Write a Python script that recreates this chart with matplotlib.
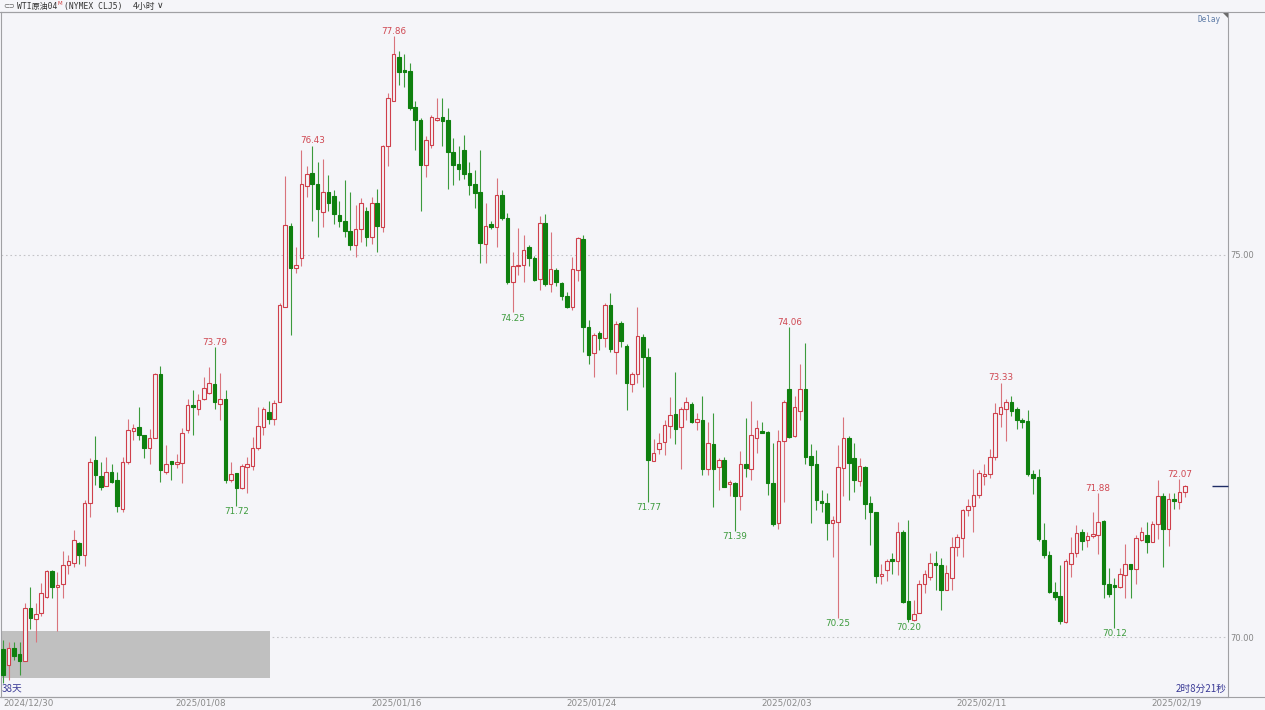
import matplotlib
matplotlib.use("Agg")
import matplotlib.pyplot as plt
from matplotlib.patches import Rectangle, Polygon
from matplotlib.lines import Line2D

plt.rcParams["font.family"] = ["DejaVu Sans", "Noto Sans CJK SC"]

BG = "#f5f5f9"
UP = "#cf3f4b"
UP_WICK = "#d9747c"
DOWN = "#0f800f"
DOWN_WICK = "#3c9a3c"
AXIS = "#a0a0a4"

# 4-hour candles, WTI CLJ5
opens = [
    69.84, 69.63, 69.86, 69.78, 69.68, 70.38, 70.23, 70.31, 70.53, 70.86,
    70.65, 70.70, 70.94, 70.97, 71.23, 71.07, 71.75, 72.32, 72.11, 71.97,
    72.16, 72.06, 71.68, 72.29, 72.70, 72.75, 72.65, 72.47, 72.61, 73.44,
    72.16, 72.31, 72.27, 72.28, 72.71, 73.04, 72.98, 73.12, 73.20, 73.31,
    73.05, 73.12, 72.06, 72.15, 71.95, 72.22, 72.24, 72.47, 72.75, 72.94,
    72.85, 73.08, 74.32, 75.38, 74.83, 74.96, 75.90, 76.07, 75.93, 75.56,
    75.82, 75.77, 75.52, 75.45, 75.32, 75.13, 75.34, 75.58, 75.23, 75.68,
    75.37, 76.43, 77.02, 77.59, 77.41, 77.41, 76.94, 76.77, 76.18, 76.44,
    76.77, 76.80, 76.76, 76.35, 76.19, 76.37, 76.07, 75.93, 75.82, 75.14,
    75.41, 75.36, 75.79, 75.48, 74.65, 74.85, 74.87, 75.10, 74.96, 74.68,
    75.42, 74.62, 74.80, 74.63, 74.46, 74.32, 74.80, 75.21, 74.06, 73.72,
    73.98, 73.91, 74.34, 73.73, 74.11, 73.81, 73.31, 73.44, 73.92, 73.67,
    72.30, 72.46, 72.55, 72.76, 72.92, 72.75, 72.98, 73.05, 72.81, 72.84,
    72.20, 72.53, 72.23, 72.32, 72.00, 72.02, 71.84, 72.27, 72.20, 72.61,
    72.70, 72.68, 72.01, 71.49, 72.56, 73.25, 72.63, 72.96, 73.24, 72.37,
    72.26, 71.78, 71.76, 71.49, 71.51, 72.21, 72.61, 72.34, 72.04, 72.22,
    71.76, 71.64, 70.80, 70.88, 71.01, 71.00, 71.38, 70.47, 70.22, 70.32,
    70.69, 70.79, 70.97, 70.94, 70.61, 70.77, 71.18, 71.29, 71.66, 71.71,
    71.86, 72.11, 72.13, 72.36, 72.92, 72.98, 73.07, 72.98, 72.84, 72.83,
    72.13, 72.09, 71.27, 71.07, 70.59, 70.54, 70.20, 70.96, 71.10, 71.38,
    71.27, 71.32, 71.34, 71.52, 70.70, 70.68, 70.65, 70.81, 70.96, 70.89,
    71.27, 71.34, 71.25, 71.48, 71.84, 71.42, 71.81, 71.77, 71.90,
]
highs = [
    69.96, 69.94, 69.94, 69.94, 70.45, 70.65, 70.45, 70.71, 70.88, 70.88,
    70.85, 71.12, 71.07, 71.40, 71.25, 71.79, 72.34, 72.63, 72.29, 72.36,
    72.27, 72.16, 72.36, 72.85, 72.79, 73.01, 72.65, 72.72, 73.46, 73.55,
    72.51, 72.31, 72.40, 72.73, 73.11, 73.23, 73.18, 73.40, 73.54, 73.79,
    73.45, 73.23, 72.29, 72.15, 72.26, 72.36, 72.62, 73.01, 73.01, 73.09,
    73.10, 74.37, 76.03, 75.42, 75.11, 76.37, 76.17, 76.43, 76.22, 76.25,
    76.05, 75.85, 75.70, 75.98, 75.82, 75.65, 75.74, 75.63, 75.76, 75.87,
    76.44, 77.12, 77.86, 77.67, 77.63, 77.51, 77.02, 76.79, 76.56, 76.83,
    77.05, 77.06, 76.92, 76.53, 76.43, 76.57, 76.22, 76.11, 76.38, 75.68,
    75.44, 76.01, 75.85, 75.55, 75.04, 75.35, 75.26, 75.13, 74.99, 75.51,
    75.53, 75.30, 74.83, 74.65, 74.51, 74.97, 75.24, 75.26, 74.15, 73.98,
    74.00, 74.37, 74.50, 74.13, 74.14, 73.84, 73.47, 74.32, 73.97, 73.78,
    72.59, 72.67, 72.84, 73.14, 73.47, 73.01, 73.14, 73.08, 72.93, 73.15,
    72.82, 72.93, 72.34, 72.36, 72.06, 72.03, 72.43, 72.86, 73.09, 72.84,
    72.82, 72.69, 72.54, 72.71, 73.10, 74.06, 73.15, 73.57, 73.85, 72.53,
    72.45, 71.92, 71.88, 71.58, 72.51, 72.88, 72.63, 72.54, 72.34, 72.24,
    71.85, 71.64, 70.96, 71.02, 71.10, 71.50, 71.40, 71.53, 70.48, 70.75,
    70.88, 71.10, 71.12, 71.03, 70.94, 71.31, 71.35, 71.68, 71.80, 72.20,
    72.19, 72.27, 72.46, 73.06, 73.33, 73.11, 73.15, 73.01, 72.86, 72.97,
    72.19, 72.20, 71.49, 71.12, 70.72, 70.94, 71.02, 71.31, 71.47, 71.41,
    71.38, 71.63, 71.88, 71.53, 70.90, 70.77, 70.90, 71.22, 70.96, 71.34,
    71.44, 71.51, 71.52, 72.05, 71.88, 71.88, 71.88, 72.07, 71.99,
]
lows = [
    69.40, 69.44, 69.70, 69.50, 69.68, 70.10, 69.94, 70.27, 70.51, 70.51,
    70.08, 70.51, 70.82, 70.92, 70.96, 70.93, 71.57, 71.99, 71.93, 71.97,
    72.01, 71.64, 71.63, 72.27, 72.58, 72.58, 72.34, 72.27, 72.60, 72.03,
    72.14, 72.06, 72.21, 72.01, 72.67, 72.64, 72.91, 73.10, 73.18, 72.99,
    72.84, 72.01, 72.03, 71.72, 71.94, 71.89, 72.19, 72.45, 72.64, 72.79,
    72.78, 73.08, 74.32, 73.95, 74.76, 74.86, 75.76, 75.44, 75.24, 75.37,
    75.57, 75.41, 75.37, 75.24, 75.07, 74.98, 75.17, 75.12, 75.15, 75.04,
    75.30, 76.16, 77.01, 77.23, 77.20, 76.90, 76.37, 75.57, 76.02, 76.40,
    76.75, 76.43, 75.87, 75.92, 75.98, 75.99, 75.79, 75.61, 74.89, 74.89,
    75.34, 75.11, 75.46, 74.62, 74.25, 74.74, 74.65, 74.86, 74.66, 74.54,
    74.59, 74.52, 74.59, 74.41, 74.31, 74.28, 74.66, 73.73, 73.57, 73.40,
    73.76, 73.80, 73.73, 73.44, 73.80, 72.97, 73.21, 73.32, 73.27, 71.77,
    72.30, 72.40, 72.38, 72.60, 72.53, 72.20, 72.84, 72.80, 72.71, 72.12,
    72.12, 71.70, 71.92, 71.96, 71.84, 71.39, 71.66, 72.10, 72.06, 72.41,
    72.67, 71.86, 71.45, 71.42, 71.77, 72.60, 72.62, 72.84, 72.26, 71.49,
    71.66, 71.64, 71.27, 71.05, 70.25, 71.84, 71.79, 71.90, 71.98, 71.55,
    71.20, 70.71, 70.69, 70.73, 70.83, 70.81, 70.45, 70.20, 70.21, 70.31,
    70.57, 70.75, 70.61, 70.36, 70.61, 70.61, 71.06, 71.05, 71.58, 71.38,
    71.82, 71.99, 72.08, 72.32, 72.75, 72.56, 72.89, 72.72, 72.73, 72.11,
    71.87, 71.26, 71.03, 70.57, 70.49, 70.17, 70.18, 70.79, 71.05, 71.14,
    71.18, 71.29, 71.09, 70.51, 70.53, 70.12, 70.64, 70.51, 70.51, 70.70,
    71.26, 71.10, 71.24, 71.28, 70.91, 71.19, 71.68, 71.68, 71.83,
]
closes = [
    69.50, 69.86, 69.75, 69.68, 70.38, 70.25, 70.30, 70.57, 70.86, 70.65,
    70.68, 70.94, 71.00, 71.27, 71.07, 71.75, 72.29, 72.12, 71.96, 72.16,
    72.03, 71.71, 72.29, 72.71, 72.73, 72.65, 72.47, 72.61, 73.44, 72.18,
    72.27, 72.27, 72.29, 72.67, 73.04, 73.01, 73.10, 73.26, 73.32, 73.08,
    73.11, 72.06, 72.14, 71.95, 72.24, 72.26, 72.48, 72.76, 72.98, 72.85,
    73.06, 74.35, 75.39, 74.83, 74.87, 75.93, 76.06, 75.93, 75.60, 75.82,
    75.68, 75.54, 75.45, 75.31, 75.13, 75.34, 75.68, 75.23, 75.68, 75.38,
    76.43, 77.05, 77.63, 77.40, 77.39, 76.93, 76.76, 76.18, 76.51, 76.80,
    76.78, 76.75, 76.35, 76.18, 76.12, 76.06, 75.92, 75.81, 75.16, 75.38,
    75.36, 75.79, 75.49, 74.65, 74.86, 74.87, 75.06, 74.96, 74.67, 75.42,
    74.62, 74.81, 74.64, 74.46, 74.32, 74.81, 75.22, 74.06, 73.69, 73.95,
    73.91, 74.34, 73.77, 74.10, 73.88, 73.32, 73.44, 73.94, 73.67, 72.32,
    72.41, 72.54, 72.77, 72.91, 72.72, 72.98, 73.07, 72.82, 72.85, 72.20,
    72.54, 72.20, 72.32, 71.96, 72.02, 71.84, 72.26, 72.21, 72.65, 72.73,
    72.67, 72.01, 71.48, 72.56, 73.07, 72.62, 73.01, 73.24, 72.36, 72.25,
    71.79, 71.75, 71.49, 71.53, 72.22, 72.61, 72.28, 72.05, 72.24, 71.74,
    71.63, 70.80, 70.83, 71.00, 70.99, 71.37, 70.46, 70.23, 70.30, 70.69,
    70.82, 70.97, 70.94, 70.62, 70.84, 71.18, 71.31, 71.66, 71.72, 71.86,
    72.15, 72.13, 72.36, 72.93, 73.01, 73.07, 72.96, 72.84, 72.82, 72.13,
    72.08, 71.28, 71.07, 70.59, 70.53, 70.21, 70.99, 71.10, 71.36, 71.26,
    71.32, 71.34, 71.51, 70.70, 70.56, 70.65, 70.82, 70.96, 70.89, 71.29,
    71.37, 71.25, 71.48, 71.85, 71.42, 71.80, 71.78, 71.90, 71.98,
]

tick_idx = [0, 36, 72, 108, 144, 180, 216]
tick_labels = ["2024/12/30", "2025/01/08", "2025/01/16", "2025/01/24",
               "2025/02/03", "2025/02/11", "2025/02/19"]
y_ticks = [75.0, 70.0]

# marked swing highs / lows (candle index, price)
high_idx = [39, 57, 72, 145, 184, 202, 217]
high_vals = [73.79, 76.43, 77.86, 74.06, 73.33, 71.88, 72.07]
low_idx = [43, 94, 119, 135, 154, 167, 205]
low_vals = [71.72, 74.25, 71.77, 71.39, 70.25, 70.20, 70.12]

W, H = 1265, 710
fig = plt.figure(figsize=(W / 100, H / 100), dpi=100, facecolor=BG)
ax = fig.add_axes([1 / W, 13 / H, 1227 / W, 685 / H])
ax.set_facecolor(BG)

x_lo, x_hi = -0.42, 225.96
ax.set_xlim(x_lo, x_hi)
ax.set_ylim(69.215, 78.18)

for y in y_ticks:
    ax.axhline(y, color="#c4c4c8", lw=0.8, ls=(0, (1.5, 2.5)), zorder=0.5)

# grey overlay box in the lower-left corner
ax.add_patch(Rectangle((0, 0.0277), 0.219, 0.0687, transform=ax.transAxes,
                       facecolor="#c0c0c0", edgecolor="none", zorder=1))

xs = list(range(len(closes)))
up = [c >= o for o, c in zip(opens, closes)]

wick_cols = [UP_WICK if u else DOWN_WICK for u in up]
ax.vlines(xs, lows, highs, colors=wick_cols, lw=0.8, zorder=2)

bottoms = [min(o, c) for o, c in zip(opens, closes)]
heights = [max(abs(c - o), 0.025) for o, c in zip(opens, closes)]
faces = [BG if u else DOWN for u in up]
edges = [UP if u else DOWN for u in up]
ax.bar(xs, heights, bottom=bottoms, width=0.66, color=faces,
       edgecolor=edges, linewidth=0.8, zorder=3)

for i, v in zip(high_idx, high_vals):
    ax.annotate(f"{v:.2f}", (i, v), xytext=(0, 3.4), textcoords="offset points",
                ha="center", va="center", fontsize=6.3, color="#cf4650", zorder=4)
for i, v in zip(low_idx, low_vals):
    ax.annotate(f"{v:.2f}", (i, v), xytext=(0, -4.3), textcoords="offset points",
                ha="center", va="center", fontsize=6.3, color="#3d9b3d", zorder=4)

# last price marker on the right
ax.plot([223, x_hi], [closes[-1], closes[-1]], color="#1f2d66", lw=1.0,
        solid_capstyle="butt", clip_on=False, zorder=4)

ax.set_yticks(y_ticks)
ax.set_yticklabels([f"{v:.2f}" for v in y_ticks])
ax.yaxis.tick_right()
ax.tick_params(axis="y", length=0, pad=2, labelsize=6.0, labelcolor="#858585")

pos = [t + 0.5 for t in tick_idx]
pos[0] = x_lo + 0.35
ax.set_xticks(pos)
ax.set_xticklabels(tick_labels)
ax.tick_params(axis="x", length=0, pad=1.0, labelsize=6.3, labelcolor="#8a8a8a")
ax.get_xticklabels()[0].set_ha("left")

for s in ax.spines.values():
    s.set_color(AXIS)
    s.set_linewidth(0.8)

# frame lines that span the whole width
fig.add_artist(Line2D([0, 1], [1 - 12 / H, 1 - 12 / H], color=AXIS, lw=0.8))
fig.add_artist(Line2D([0, 1], [13 / H, 13 / H], color=AXIS, lw=0.8))

# corner marker and Delay tag
fig.add_artist(Polygon([(1222 / W, 1 - 12 / H), (1228 / W, 1 - 12 / H),
                        (1228 / W, 1 - 18 / H)], closed=True,
                       facecolor="#6a6a6a", edgecolor="none"))
fig.text(1221 / W, 1 - 20 / H, "Delay", ha="right", va="center",
         fontsize=5.5, color="#5c7aa6", family="DejaVu Sans Mono")

# header line
hy = 1 - 6 / H
cjk = ["Noto Sans CJK SC", "DejaVu Sans"]
mono = ["DejaVu Sans Mono", "Noto Sans CJK SC"]
fig.text(3 / W, hy, "⊂⊃", ha="left", va="center", fontsize=5, color="#606060")
fig.text(17 / W, hy, "WTI原油04", ha="left", va="center", fontsize=5.8,
         color="#333333", family=mono)
fig.text(57.5 / W, 1 - 3.5 / H, "M", ha="left", va="center", fontsize=4.0,
         color="#d04040")
fig.text(64 / W, hy, "(NYMEX CLJ5)", ha="left", va="center", fontsize=5.8,
         color="#333333", family=mono)
fig.text(133 / W, hy, "4小时", ha="left", va="center", fontsize=6.3,
         color="#333333", family=cjk)
fig.text(157 / W, hy, "∨", ha="left", va="center", fontsize=6.5,
         color="#333333", family=["DejaVu Sans"])

# small status texts at the bottom of the plot
fig.text(2 / W, 1 - 689 / H, "38天", ha="left", va="center", fontsize=7,
         color="#3a3a96", family=cjk)
fig.text(1227 / W, 1 - 689 / H, "2时8分21秒", ha="right", va="center",
         fontsize=7, color="#3a3a96", family=cjk)

fig.savefig("out.png", dpi=100, facecolor=BG)
